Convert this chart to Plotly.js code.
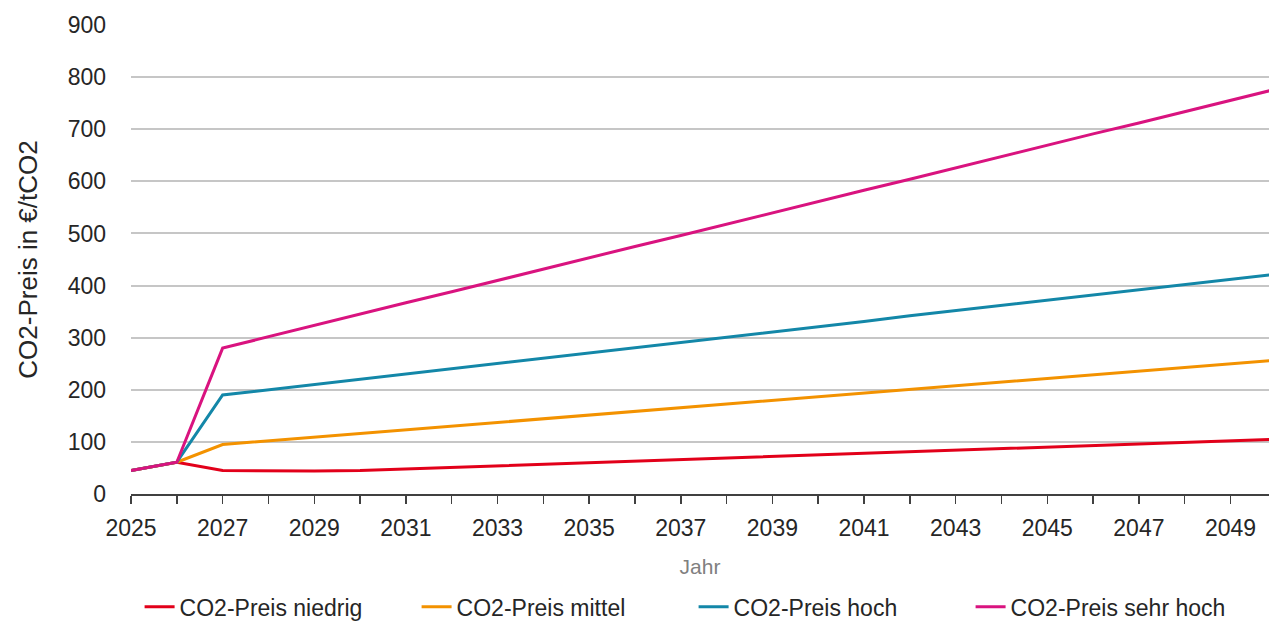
<!DOCTYPE html>
<html>
<head>
<meta charset="utf-8">
<script src="https://cdn.plot.ly/plotly-3.0.1.min.js"></script>
<style>html,body{margin:0;padding:0;background:#fff;}#chart{width:1269px;height:623px;}</style>
</head>
<body>
<div id="chart"></div>
<script>
const years = [2025,2026,2027,2028,2029,2030,2031,2032,2033,2034,2035,2036,2037,2038,2039,2040,2041,2042,2043,2044,2045,2046,2047,2048,2049,2050];
const niedrig = [45,61,45,44,44,45,48,51,54,57,60,63,66,69,72,75,78,81,84,87,90,93,96,99,102,105];
const mittel = [45,61,95,102,109,116,123,130,137,144,151,158,165,172,179,187,194,201,208,215,222,229,236,243,250,257];
const hoch = [45,61,190,200,210,220,230,241,251,261,271,281,291,301,311,321,331,342,352,362,372,382,392,402,412,422];
const sehrHoch = [45,61,280,302,323,345,367,388,410,431,453,475,496,518,539,561,583,604,626,647,669,691,712,734,755,777];
const seriesNames = ['CO2-Preis niedrig','CO2-Preis mittel','CO2-Preis hoch','CO2-Preis sehr hoch'];
const xTickVals = [2025,2027,2029,2031,2033,2035,2037,2039,2041,2043,2045,2047,2049];
const yTickVals = [0,100,200,300,400,500,600,700,800,900];

const FONT = "'Liberation Sans Narrow', 'Arial Narrow', 'Liberation Sans', Arial, sans-serif";
const colors = ['#e2001a','#f39200','#1387a8','#d9137f'];
const data = [niedrig, mittel, hoch, sehrHoch].map((vals, i) => ({
  x: years, y: vals, type: 'scatter', mode: 'lines', name: seriesNames[i],
  line: {color: colors[i], width: 3}
}));

const layout = {
  width: 1269, height: 623,
  margin: {l: 131, r: 0, t: 25, b: 129},
  paper_bgcolor: '#fff', plot_bgcolor: '#fff',
  font: {family: FONT, color: '#262626', size: 23},
  showlegend: true,
  legend: {orientation: 'h', xref: 'container', yref: 'container', x: 0.110, xanchor: 'left', y: 0.026, yanchor: 'middle',
           font: {family: FONT, size: 23, color: '#262626'}, entrywidth: 232, entrywidthmode: 'pixels', traceorder: 'normal'},
  xaxis: {
    range: [2025, 2049.84], tickvals: xTickVals, ticktext: xTickVals.map(String),
    showgrid: false, zeroline: false, showline: true, linecolor: '#404040', linewidth: 2,
    ticks: 'outside', ticklen: 8, tickwidth: 1.5, tickcolor: '#404040',
    minor: {dtick: 1, tick0: 2025, ticks: 'outside', ticklen: 8, tickwidth: 1.5, tickcolor: '#404040', showgrid: false},
    tickfont: {family: FONT, size: 23, color: '#262626'},
    ticklabelstandoff: 4,
    title: {text: 'Jahr', font: {family: FONT, size: 21, color: '#808080'}, standoff: 20},
    fixedrange: true
  },
  yaxis: {
    range: [0, 900], tickvals: yTickVals, showgrid: true, gridcolor: '#c6c6c6', gridwidth: 2,
    zeroline: false, showline: false, ticks: '', ticklabelstandoff: 24,
    tickfont: {family: FONT, size: 23, color: '#262626'},
    title: {text: 'CO2-Preis in €/tCO2', font: {family: FONT, size: 26, color: '#262626'}, standoff: 22},
    fixedrange: true
  }
};
Plotly.newPlot('chart', data, layout, {displayModeBar: false, staticPlot: true});
</script>
</body>
</html>
